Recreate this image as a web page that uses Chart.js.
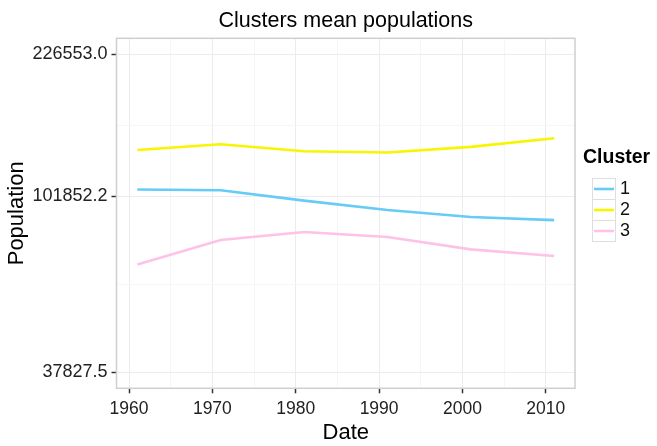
<!doctype html>
<html>
<head>
    <meta charset="UTF-8">
    <title>Clusters mean populations</title>
    <script src="https://cdn.jsdelivr.net/npm/chart.js@4/dist/chart.umd.min.js"></script>
    <style>
        body { margin: 0; background: #fff; }
        canvas { display: block; }
    </style>
</head>
<body>
<canvas id="chart-area" width="657" height="446"></canvas>
<script>
    // data
    var years = [1961, 1971, 1981, 1991, 2001, 2011];
    var cluster1 = [105800, 105400, 99400, 94300, 90700, 89100];
    var cluster2 = [132200, 136500, 131200, 130300, 134500, 141200];
    var cluster3 = [69450, 79650, 83300, 81000, 75570, 72780];
    var clusterNames = ['1', '2', '3'];
    var clusterColors = ['#66CBF5', '#F8F500', '#FDC2E6'];
    var yTicks = [37827.5, 101852.2, 226553.0];
    var xTicks = [1960, 1970, 1980, 1990, 2000, 2010];

    var FONT = '"Liberation Sans", Arial, Helvetica, sans-serif';
    Chart.defaults.font.family = FONT;

    // ggplot style limits: 5% expansion (log space for y)
    var lmin = Math.log10(yTicks[0]), lmax = Math.log10(yTicks[yTicks.length - 1]);
    var lpad = (lmax - lmin) * 0.05;
    var yMin = Math.pow(10, lmin - lpad), yMax = Math.pow(10, lmax + lpad);
    var xpad = (years[years.length - 1] - years[0]) * 0.05;

    // minor breaks halfway between majors
    var yMinor = [];
    for (var i = 1; i < yTicks.length; i++) yMinor.push(Math.sqrt(yTicks[i - 1] * yTicks[i]));
    var xMinor = [];
    for (var j = 1; j < xTicks.length; j++) xMinor.push((xTicks[j - 1] + xTicks[j]) / 2);

    function isMajor(list, v) {
        for (var k = 0; k < list.length; k++) if (Math.abs(list[k] - v) < 1e-6 * Math.abs(v)) return true;
        return false;
    }

    var series = [cluster1, cluster2, cluster3];
    var datasets = series.map(function (vals, n) {
        return {
            label: clusterNames[n],
            data: years.map(function (yr, i) { return {x: yr, y: vals[i]}; }),
            borderColor: clusterColors[n],
            backgroundColor: clusterColors[n],
            borderWidth: 2.6,
            pointRadius: 0,
            tension: 0,
            fill: false
        };
    });

    var ggPanel = {
        id: 'ggPanel',
        afterDraw: function (chart) {
            var ctx = chart.ctx, a = chart.chartArea;
            ctx.save();
            // panel border
            ctx.strokeStyle = '#cfcfcf';
            ctx.lineWidth = 1.5;
            ctx.strokeRect(a.left, a.top, a.right - a.left, a.bottom - a.top);
            // title
            ctx.fillStyle = '#000';
            ctx.font = '21.5px ' + FONT;
            ctx.textAlign = 'center';
            ctx.textBaseline = 'middle';
            ctx.fillText('Clusters mean populations', (a.left + a.right) / 2, 21);
            // legend
            ctx.textAlign = 'left';
            ctx.font = 'bold 19.5px ' + FONT;
            ctx.fillText('Cluster', 583, 158);
            var kx = 592, ky = 178, kw = 23, kh = 21;
            ctx.font = '18px ' + FONT;
            chart.data.datasets.forEach(function (ds, n) {
                var top = ky + n * kh;
                ctx.strokeStyle = '#dedede';
                ctx.lineWidth = 1;
                ctx.strokeRect(kx + 0.5, top + 0.5, kw, kh);
                ctx.strokeStyle = ds.borderColor;
                ctx.lineWidth = 2.6;
                ctx.beginPath();
                ctx.moveTo(kx + 2, top + kh / 2 + 0.5);
                ctx.lineTo(kx + kw - 1, top + kh / 2 + 0.5);
                ctx.stroke();
                ctx.fillStyle = '#111';
                ctx.textBaseline = 'middle';
                ctx.fillText(ds.label, kx + kw + 5, top + kh / 2 + 1);
            });
            ctx.restore();
        }
    };

    var config = {
        type: 'line',
        data: {datasets: datasets},
        plugins: [ggPanel],
        options: {
            responsive: false,
            animation: false,
            layout: {padding: {top: 38.3, right: 82, left: 0, bottom: 0}},
            plugins: {
                legend: {display: false},
                title: {display: false},
                tooltip: {enabled: false}
            },
            scales: {
                x: {
                    type: 'linear',
                    min: years[0] - xpad,
                    max: years[years.length - 1] + xpad,
                    afterBuildTicks: function (axis) {
                        axis.ticks = xTicks.concat(xMinor).sort(function (a, b) { return a - b; })
                            .map(function (v) { return {value: v}; });
                    },
                    afterFit: function (axis) { axis.height = 57.7; },
                    border: {display: false},
                    grid: {
                        color: function (c) { return isMajor(xTicks, c.tick.value) ? '#ececec' : '#f6f6f6'; },
                        tickColor: function (c) { return isMajor(xTicks, c.tick.value) ? '#333' : 'rgba(0,0,0,0)'; },
                        tickLength: 5,
                        tickWidth: 1.5,
                        lineWidth: 1
                    },
                    ticks: {
                        autoSkip: false,
                        maxRotation: 0,
                        padding: 5,
                        color: '#222',
                        font: {size: 17.5},
                        callback: function (v) { return isMajor(xTicks, v) ? String(v) : ''; }
                    },
                    title: {
                        display: true,
                        text: 'Date',
                        color: '#000',
                        font: {size: 22},
                        padding: {top: 0, bottom: 0}
                    }
                },
                y: {
                    type: 'logarithmic',
                    min: yMin,
                    max: yMax,
                    afterBuildTicks: function (axis) {
                        axis.ticks = yTicks.concat(yMinor).sort(function (a, b) { return a - b; })
                            .map(function (v) { return {value: v}; });
                    },
                    afterFit: function (axis) { axis.width = 116.5; },
                    border: {display: false},
                    grid: {
                        color: function (c) { return isMajor(yTicks, c.tick.value) ? '#ececec' : '#f6f6f6'; },
                        tickColor: function (c) { return isMajor(yTicks, c.tick.value) ? '#333' : 'rgba(0,0,0,0)'; },
                        tickLength: 5,
                        tickWidth: 1.5,
                        lineWidth: 1
                    },
                    ticks: {
                        autoSkip: false,
                        padding: 4,
                        color: '#222',
                        font: {size: 18},
                        callback: function (v) { return isMajor(yTicks, v) ? Number(v).toFixed(1) : ''; }
                    },
                    title: {
                        display: true,
                        text: 'Population',
                        color: '#000',
                        font: {size: 22},
                        padding: {top: 4, bottom: 0}
                    }
                }
            }
        }
    };

    var ctx = document.getElementById('chart-area').getContext('2d');
    window.myLine = new Chart(ctx, config);
</script>
</body>
</html>
